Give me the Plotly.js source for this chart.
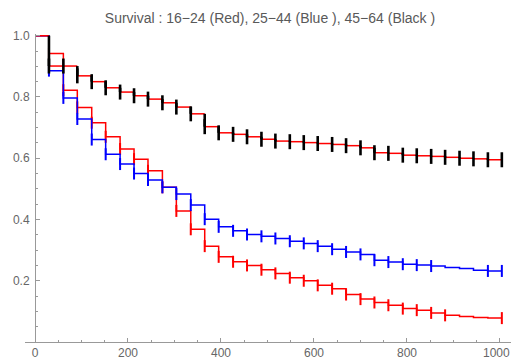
<!DOCTYPE html>
<html><head><meta charset="utf-8">
<script src="https://cdn.plot.ly/plotly-3.0.1.min.js"></script>
<style>html,body{margin:0;padding:0;background:#fff}#chart{width:511px;height:362px}</style>
</head><body><div id="chart"></div>
<script>
// step times (days, monthly)
const monthDays = [0,30,61,91,122,152,183,213,243,274,304,335,365,395,426,456,487,517,548,578,608,639,669,700,730,760,791,821,852,882,913,943,974,1004];
// survival value holding from each step time
const survRed   = [1.000,0.942,0.822,0.766,0.716,0.670,0.630,0.597,0.559,0.505,0.428,0.368,0.313,0.278,0.262,0.250,0.236,0.224,0.210,0.200,0.185,0.174,0.155,0.140,0.129,0.120,0.109,0.104,0.095,0.087,0.083,0.080,0.078,0.078];
const survBlue  = [1.000,0.886,0.797,0.728,0.661,0.613,0.581,0.550,0.529,0.505,0.483,0.447,0.401,0.376,0.363,0.351,0.345,0.338,0.329,0.322,0.313,0.303,0.294,0.286,0.267,0.261,0.254,0.251,0.248,0.243,0.240,0.234,0.232,0.232];
const survBlack = [1.000,0.901,0.901,0.869,0.850,0.830,0.816,0.804,0.793,0.781,0.767,0.745,0.703,0.683,0.678,0.670,0.662,0.656,0.654,0.651,0.648,0.645,0.641,0.634,0.618,0.616,0.610,0.608,0.606,0.603,0.600,0.598,0.595,0.595];
// month indices that carry a censoring mark
const censorRed   = [1,2,3,4,5,6,7,8,9,10,11,12,13,14,15,16,17,18,19,20,21,22,23,24,25,26,27,28,29,33];
const censorBlue  = [1,2,3,4,5,6,7,8,9,10,11,12,13,14,15,16,17,18,19,20,21,22,23,24,25,26,27,28,32,33];
const censorBlack = [1,2,3,4,5,6,7,8,9,10,11,12,13,14,15,16,17,18,19,20,21,22,23,24,25,26,27,28,29,30,31,32,33];
const xTicks = [0,200,400,600,800,1000];
const xTickText = ['0','200','400','600','800',''];   // last label drawn right-aligned at the edge
const xLastLabel = '1000';
const yTicks = [0.2,0.4,0.6,0.8,1.0];
const yTickText = ['0.2','0.4','0.6','0.8','1.0'];
const titleText = 'Survival : 16\u221224 (Red), 25\u221244 (Blue ), 45\u221264 (Black )';

const Y_RANGE = [0, 1.0056];
const PX_PER_UNIT = 308 / (Y_RANGE[1]-Y_RANGE[0]);

function stepTrace(s, color, width){
  return {x: monthDays, y: s, mode:'lines', line:{shape:'hv', color:color, width:width}, hoverinfo:'skip'};
}
function horizTrace(s, color, width){
  const x=[], y=[];
  for(let k=0;k<monthDays.length-1;k++){ x.push(monthDays[k],monthDays[k+1],null); y.push(s[k],s[k],null); }
  return {x:x, y:y, mode:'lines', line:{color:color, width:width}, hoverinfo:'skip'};
}
function vertTrace(s, color, width){
  const x=[], y=[];
  for(let k=1;k<monthDays.length;k++){ x.push(monthDays[k],monthDays[k],null); y.push(s[k-1],s[k],null); }
  return {x:x, y:y, mode:'lines', line:{color:color, width:width}, hoverinfo:'skip'};
}
function censorTrace(s, idx, color, width, halfPx){
  const h = halfPx / PX_PER_UNIT;
  const x=[], y=[];
  idx.forEach(k=>{ x.push(monthDays[k],monthDays[k],null); y.push(s[k]-h,s[k]+h,null); });
  return {x:x, y:y, mode:'lines', line:{color:color, width:width}, hoverinfo:'skip'};
}

const data = [
  stepTrace(survRed, '#ff0000', 1.5),
  censorTrace(survRed, censorRed, '#ff0000', 2, 6),
  stepTrace(survBlue, '#0000ff', 1.5),
  censorTrace(survBlue, censorBlue, '#0000ff', 2, 6),
  horizTrace(survBlack, '#ff0000', 1.5),
  vertTrace(survBlack, '#000000', 2.6),
  censorTrace(survBlack, censorBlack, '#000000', 2.6, 7.5)
];

const fontFam = 'Liberation Sans, Arial, sans-serif';
const tickFont = {family:fontFam, size:12, color:'#666'};
const layout = {
  width:511, height:362,
  margin:{l:25, r:0, t:34, b:20, pad:0},
  paper_bgcolor:'#fff', plot_bgcolor:'#fff',
  showlegend:false,
  title:{text:titleText, font:{family:fontFam, size:14, color:'#595959'},
         xref:'container', yref:'container', x:270/511, xanchor:'center', y:1-18/362, yanchor:'middle'},
  xaxis:{range:[-21.5,1023.7], showline:true, linecolor:'#999', linewidth:1,
         ticks:'inside', ticklen:4, tickcolor:'#999', tickwidth:1,
         tickmode:'array', tickvals:xTicks, ticktext:xTickText,
         minor:{tick0:0, dtick:50, ticks:'inside', ticklen:2.5, tickcolor:'#999', tickwidth:1},
         showgrid:false, zeroline:false,
         tickfont:tickFont},
  yaxis:{range:Y_RANGE, anchor:'free', position:21.5/1045.2, showline:true, linecolor:'#999', linewidth:1,
         ticks:'inside', ticklen:4, tickcolor:'#999', tickwidth:1,
         tickmode:'array', tickvals:yTicks, ticktext:yTickText,
         minor:{tick0:0, dtick:0.05, ticks:'inside', ticklen:2.5, tickcolor:'#999', tickwidth:1},
         showgrid:false, zeroline:false, ticklabelstandoff:3, ticklabeloverflow:'allow',
         tickfont:tickFont},
  annotations:[{text:xLastLabel, xref:'paper', yref:'y', x:1, y:0, xanchor:'right', yanchor:'top',
                yshift:-3, showarrow:false, font:tickFont, borderpad:0}]
};
Plotly.newPlot('chart', data, layout, {displayModeBar:false, staticPlot:true});
</script></body></html>
